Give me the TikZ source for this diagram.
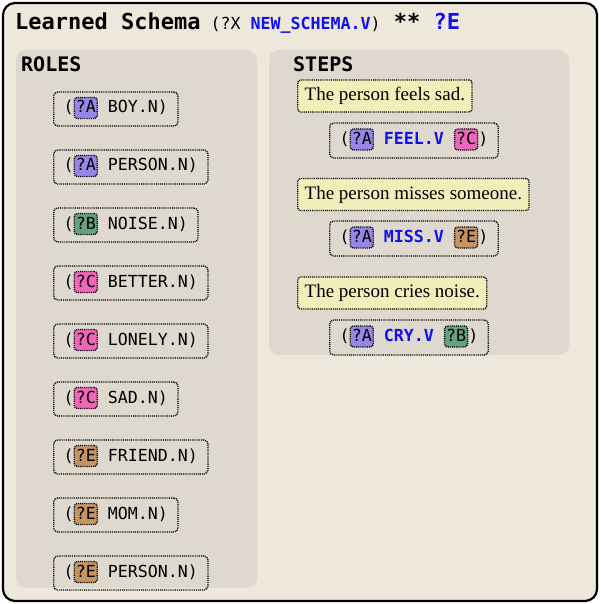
\documentclass[tikz,border=0pt]{standalone}
\usepackage{fontspec}
\setmainfont{Liberation Serif}
\setmonofont{DejaVu Sans Mono}

\definecolor{frameBg}{HTML}{EEE7DC}
\definecolor{panelBg}{HTML}{DED8CE}
\definecolor{glossBg}{HTML}{F2EEBA}
\definecolor{varA}{HTML}{9586E8}
\definecolor{varB}{HTML}{65A283}
\definecolor{varC}{HTML}{F066BA}
\definecolor{varE}{HTML}{C59461}
\definecolor{predBlue}{HTML}{1010F0}

\newcommand{\monosize}{\fontsize{16.61pt}{20pt}\selectfont}
\newcommand{\bigsize}{\fontsize{22pt}{26pt}\selectfont}
\newcommand{\vartag}[1]{\tikz[baseline=(v#1.base)]\node[vartag, fill=var#1] (v#1) {?#1};}
\newcommand{\pred}[1]{\textbf{\textcolor{predBlue}{#1}}}

\tikzset{
	dotline/.style = {draw, line width = 1.3pt, dash pattern = on 1pt off 0.9pt},
	vartag/.style = {dotline, rounded corners = 3pt, inner xsep = 1.5pt, inner ysep = 1pt, text height = 14.5pt, text depth = 4.5pt, minimum height = 0pt, minimum width = 0pt, anchor = center, text = black},
	rolebox/.style = {dotline, rounded corners = 4pt, anchor = west, inner xsep = 10pt, minimum height = 34pt, text height = 15.5pt, text depth = 7.5pt, font = \ttfamily\monosize},
	glossbox/.style = {dotline, rounded corners = 3pt, fill = glossBg, anchor = west, inner xsep = 7pt, minimum height = 32pt, font = \fontsize{19pt}{22pt}\selectfont},
	heading/.style = {anchor = base west, inner sep = 0, font = \ttfamily\bfseries\fontsize{20pt}{24pt}\selectfont},
	panel/.style = {fill = panelBg, rounded corners = 10pt}
}

\begin{document}
\begin{tikzpicture}[x = 1pt, y = 1pt, yscale = -1]
					\useasboundingbox (0, 0) rectangle (600, 604);
					\draw [line width = 2.2pt, fill = frameBg, rounded corners = 12pt] (3, 3) rectangle (597, 601);

					\node [anchor = base west, inner sep = 0, font = \ttfamily] (title) at (15, 30) {{\bfseries\bigsize Learned Schema}{\monosize\ (?X \pred{NEW\_SCHEMA.V})}{\bfseries\bigsize\ ** \textcolor{predBlue}{?E}}};

					\fill [panel] (16, 50) rectangle (257, 588);
					\fill [panel] (269, 50) rectangle (569, 355);
					\node [heading] (roles) at (21, 72) {ROLES};
					\node [heading] (steps) at (293, 72) {STEPS};

					\foreach \i/\v/\w in { 1/A/BOY.N, 2/A/PERSON.N, 3/B/NOISE.N, 4/C/BETTER.N, 5/C/LONELY.N, 6/C/SAD.N, 7/E/FRIEND.N, 8/E/MOM.N, 9/E/PERSON.N} {
						\node [rolebox] (role\i) at (53, 51 + 58 * \i) {(\vartag{\v} \w)};
					}

					\node [glossbox] (gloss1) at (297, 96) {The person feels sad.};
					\node [rolebox, minimum height = 35pt] (step1) at (329, 140.5) {(\vartag{A} \pred{FEEL.V} \vartag{C})};
					\node [glossbox] (gloss2) at (297, 194.5) {The person misses someone.};
					\node [rolebox, minimum height = 35pt] (step2) at (329, 238.5) {(\vartag{A} \pred{MISS.V} \vartag{E})};
					\node [glossbox] (gloss3) at (297, 293) {The person cries noise.};
					\node [rolebox, minimum height = 35pt] (step3) at (329, 337.5) {(\vartag{A} \pred{CRY.V} \vartag{B})};
				\end{tikzpicture}
\end{document}
